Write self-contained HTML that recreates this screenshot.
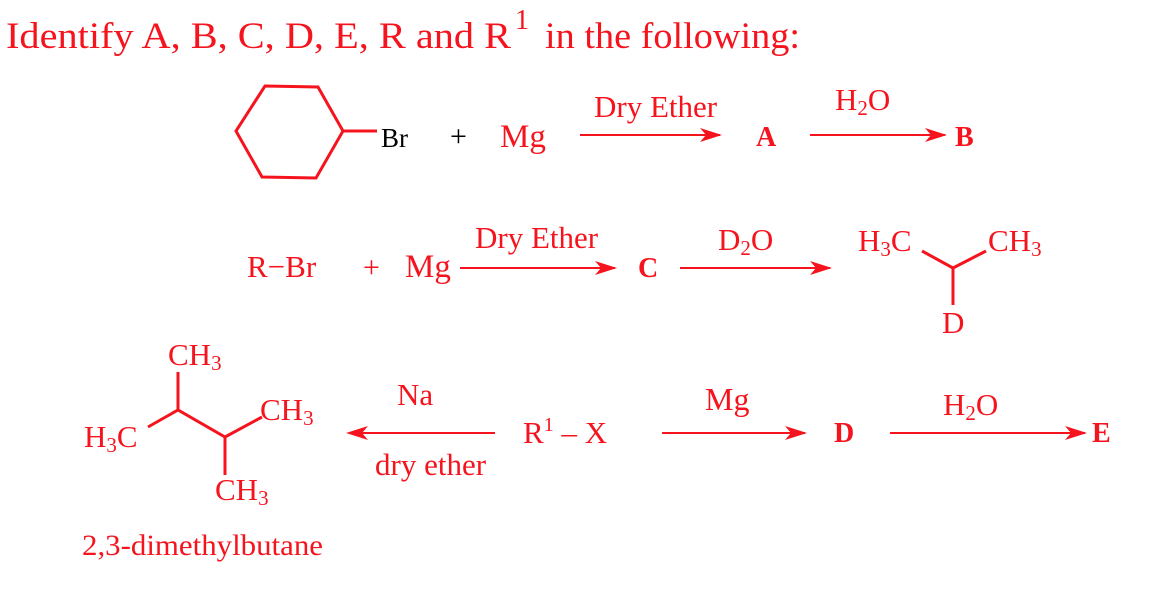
<!DOCTYPE html>
<html><head><style>
html,body{margin:0;padding:0;background:#fff;}
svg{display:block;}
text{font-family:"Liberation Serif",serif;fill:#f5141e;}
</style></head><body>
<svg width="1164" height="594" viewBox="0 0 1164 594" xmlns="http://www.w3.org/2000/svg">
<g>
<text x="6" y="48" font-size="37" textLength="505" lengthAdjust="spacingAndGlyphs">Identify A, B, C, D, E, R and R</text>
<text x="515" y="29" font-size="28">1</text>
<text x="545" y="48" font-size="37" textLength="255" lengthAdjust="spacingAndGlyphs">in the following:</text>
</g>
<g stroke="#f5141e" stroke-width="3" fill="none">
<polygon points="265,86 318,87 343,131 316,178 262,177 236,131"/>
<line x1="343" y1="131" x2="377" y2="131"/>
<line x1="580" y1="135" x2="720" y2="135" stroke-width="2"/>
<path d="M700,128 L722,135 L700,142 L706,135 Z" fill="#f5141e" stroke="none"/>
<line x1="810" y1="135" x2="945" y2="135" stroke-width="2"/>
<path d="M925,128 L947,135 L925,142 L931,135 Z" fill="#f5141e" stroke="none"/>
<line x1="460" y1="268" x2="615" y2="268" stroke-width="2"/>
<path d="M595,261 L617,268 L595,275 L601,268 Z" fill="#f5141e" stroke="none"/>
<line x1="680" y1="268" x2="830" y2="268" stroke-width="2"/>
<path d="M810,261 L832,268 L810,275 L816,268 Z" fill="#f5141e" stroke="none"/>
<line x1="350" y1="433" x2="495" y2="433" stroke-width="2"/>
<path d="M368,426 L346,433 L368,440 L362,433 Z" fill="#f5141e" stroke="none"/>
<line x1="662" y1="433" x2="805" y2="433" stroke-width="2"/>
<path d="M785,426 L807,433 L785,440 L791,433 Z" fill="#f5141e" stroke="none"/>
<line x1="890" y1="433" x2="1085" y2="433" stroke-width="2"/>
<path d="M1065,426 L1087,433 L1065,440 L1071,433 Z" fill="#f5141e" stroke="none"/>
<polyline points="922,251 953,268 986,251"/>
<line x1="953" y1="268" x2="953" y2="305"/>
<line x1="178" y1="372" x2="178" y2="410"/>
<polyline points="148,427 178,410 225,437 262,417"/>
<line x1="225" y1="437" x2="225" y2="475"/>
</g>
<text x="381" y="147" font-size="27" style="fill:#000">Br</text>
<text x="450" y="146" font-size="30" style="fill:#000">+</text>
<text x="500" y="147" font-size="33">Mg</text>
<text x="594" y="117" font-size="31">Dry Ether</text>
<text x="756" y="146" font-size="28" font-weight="bold">A</text>
<text x="835" y="110" font-size="31">H<tspan font-size="21" dy="5">2</tspan><tspan dy="-5">O</tspan></text>
<text x="955" y="146" font-size="28" font-weight="bold">B</text>

<text x="247" y="277" font-size="31">R−Br</text>
<text x="363" y="277" font-size="30">+</text>
<text x="405" y="277" font-size="33">Mg</text>
<text x="475" y="248" font-size="31">Dry Ether</text>
<text x="638" y="277" font-size="28" font-weight="bold">C</text>
<text x="718" y="250" font-size="31">D<tspan font-size="21" dy="5">2</tspan><tspan dy="-5">O</tspan></text>
<text x="858" y="251" font-size="31">H<tspan font-size="21" dy="5">3</tspan><tspan dy="-5">C</tspan></text>
<text x="988" y="251" font-size="31">CH<tspan font-size="21" dy="5">3</tspan></text>
<text x="942" y="333" font-size="31">D</text>

<text x="168" y="365" font-size="31">CH<tspan font-size="21" dy="5">3</tspan></text>
<text x="84" y="447" font-size="31">H<tspan font-size="21" dy="5">3</tspan><tspan dy="-5">C</tspan></text>
<text x="260" y="420" font-size="31">CH<tspan font-size="21" dy="5">3</tspan></text>
<text x="215" y="500" font-size="31">CH<tspan font-size="21" dy="5">3</tspan></text>
<text x="82" y="555" font-size="30" textLength="241" lengthAdjust="spacingAndGlyphs">2,3-dimethylbutane</text>
<text x="397" y="405" font-size="31">Na</text>
<text x="375" y="475" font-size="31">dry ether</text>
<text x="523" y="443" font-size="31">R<tspan font-size="20" dy="-12">1</tspan><tspan dy="12"> – X</tspan></text>
<text x="705" y="410" font-size="32">Mg</text>
<text x="834" y="442" font-size="28" font-weight="bold">D</text>
<text x="943" y="415" font-size="31">H<tspan font-size="21" dy="5">2</tspan><tspan dy="-5">O</tspan></text>
<text x="1092" y="442" font-size="28" font-weight="bold">E</text>
</svg>
</body></html>
